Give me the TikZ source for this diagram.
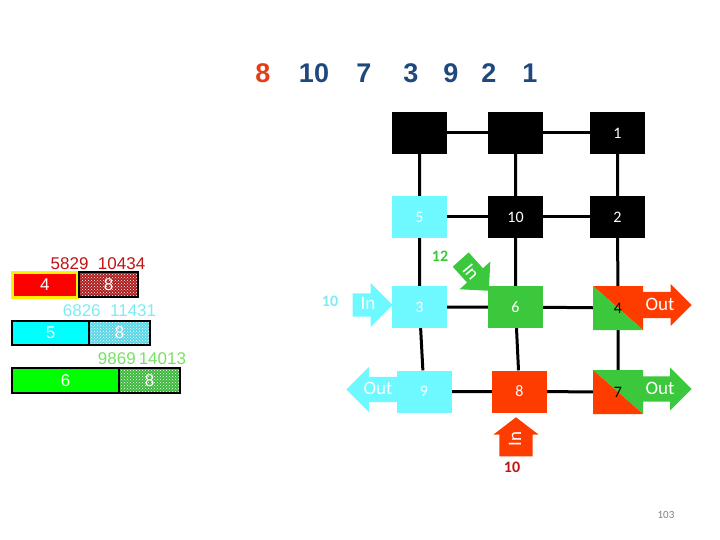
\documentclass[tikz,border=0pt]{standalone}
\usepackage{fontspec}
\setmainfont{Carlito}
\newfontfamily\arialfont{Liberation Sans}
\usepackage{xcolor}
\usetikzlibrary{arrows.meta, positioning, shapes.arrows, patterns, backgrounds}

\definecolor{navy}{RGB}{31,73,125}
\definecolor{seqred}{RGB}{228,62,22}
\definecolor{cellcyan}{RGB}{110,248,255}
\definecolor{cellgreen}{RGB}{60,200,60}
\definecolor{cellred}{RGB}{255,60,0}
\definecolor{darkred}{RGB}{192,20,20}
\definecolor{barcyan}{RGB}{0,255,255}
\definecolor{bargreen}{RGB}{0,255,0}
\definecolor{txtcyan}{RGB}{125,235,245}
\definecolor{txtgreen}{RGB}{120,225,100}
\definecolor{hatchred}{RGB}{175,30,30}
\definecolor{hatchcyan}{RGB}{90,215,230}
\definecolor{hatchgreen}{RGB}{60,185,60}

\begin{document}
\begin{tikzpicture}[x=1pt, y=-1pt, every node/.style={inner sep=0pt}]
  \tikzset{
    cell/.style={rectangle, fill=#1, minimum width=55pt, minimum height=42pt,
      text=white, font=\fontsize{16}{16}\selectfont},
    splitcell/.style 2 args={rectangle, minimum width=50pt, minimum height=44pt,
      font=\fontsize{16}{16}\selectfont,
      path picture={
        \fill[#1] (path picture bounding box.north west) -- (path picture bounding box.north east)
          -- (path picture bounding box.south east) -- cycle;
        \fill[#2] (path picture bounding box.north west) -- (path picture bounding box.south west)
          -- (path picture bounding box.south east) -- cycle;}},
    link/.style={line width=3pt},
    flow/.style={single arrow, fill=#1, anchor=tip, inner xsep=0pt},
    flowtext/.style={text=white, font=\fontsize{19}{19}\selectfont},
    seq/.style={text=navy, font=\arialfont\bfseries\fontsize{27}{27}\selectfont},
    barnum/.style={text=#1, font=\arialfont\fontsize{17}{17}\selectfont},
    bar/.style={rectangle, fill=#1, draw=black, line width=1.5pt, minimum height=25pt,
      text=white, font=\arialfont\fontsize{17}{17}\selectfont},
    hatch/.style={bar=white, preaction={fill=#1}, pattern=crosshatch dots, pattern color=white},
    count/.style={text=#1, font=\bfseries\fontsize{16}{16}\selectfont}
  }
  \useasboundingbox (0,0) rectangle (720,540);

  \node[seq, text=seqred] (s8) at (263,73) {8};
  \foreach \v/\x in {10/314, 7/364, 3/411, 9/451, 2/489, 1/530}
    \node[seq] (s\v) at (\x,73) {\v};

  \node[cell=black] (t1) at (419.5,133) {};
  \node[cell=black] (t2) at (515.5,133) {};
  \node[cell=black] (n1) at (617.5,133) {1};
  \node[cell=cellcyan] (n5) at (419.5,217) {5};
  \node[cell=black] (n10) at (515.5,217) {10};
  \node[cell=black] (n2) at (617.5,217) {2};
  \node[cell=cellcyan] (n3) at (419.5,307) {3};
  \node[cell=cellgreen] (n6) at (515.5,307) {6};
  \node[splitcell={cellred}{cellgreen}] (n4) at (618,308) {4};
  \node[cell=cellcyan] (n9) at (424,391.5) {9};
  \node[cell=cellred] (n8) at (519.5,391.5) {8};
  \node[splitcell={cellgreen}{cellred}] (n7) at (618,392) {7};

  \begin{scope}[on background layer]
    \draw[link] (t1) -- (t2) -- (n1);
    \draw[link] (n5) -- (n10) -- (n2);
    \draw[link] (n3) -- (n6) -- (n4);
    \draw[link] (n9) -- (n8) -- (n7);
    \draw[link] (t1) -- (n5) -- (n3) -- (n9);
    \draw[link] (t2) -- (n10) -- (n6) -- (n8);
    \draw[link] (n1) -- (n2) -- (n4) -- (n7);
  \end{scope}

  \node[flow=cellcyan, minimum height=40pt, inner ysep=11.5pt,
    single arrow head extend=10.5pt] (inC) at (393,305) {};
  \node[flow=cellcyan, rotate=180, minimum height=54pt, inner ysep=12.5pt,
    single arrow head extend=10pt] (outC) at (346,389.5) {};
  \node[flow=cellred, rotate=90, minimum height=39pt, inner ysep=16.5pt,
    single arrow head extend=6pt, single arrow tip angle=105] (inR) at (516,417) {};
  \node[flow=cellred, minimum height=49pt, inner ysep=13pt,
    single arrow head extend=8pt] (outR) at (692,305) {};
  \node[flow=cellgreen, minimum height=49pt, inner ysep=12.5pt,
    single arrow head extend=9pt] (outG) at (692,389) {};
  \node[flow=cellgreen, rotate=-48, minimum height=42pt, inner ysep=10.5pt,
    single arrow head extend=10pt] (inG) at (489,291) {};

  \node[flowtext] (inCt) at (368,303) {In};
  \node[flowtext] (outCt) at (378,388) {Out};
  \node[flowtext, rotate=90] (inRt) at (515,439) {In};
  \node[flowtext] (outRt) at (660,304) {Out};
  \node[flowtext] (outGt) at (660,388) {Out};
  \node[flowtext, rotate=-50] (inGt) at (471,272) {In};

  \node[count=txtcyan] (cC) at (330,301) {10};
  \node[count=cellgreen] (cG) at (440,256) {12};
  \node[count=darkred] (cR) at (512,467) {10};

  \node[bar=red, draw=yellow, line width=3pt, minimum width=65.5pt] (b4) at (44.75,285) {4};
  \node[hatch=hatchred, minimum width=59pt] (h4) at (108.5,284.5) {8};
  \node[bar=barcyan, minimum width=77pt, minimum height=24pt] (b5) at (50.5,333) {5};
  \node[hatch=hatchcyan, minimum width=61pt, minimum height=24pt] (h5) at (119.5,333) {8};
  \node[bar=bargreen, minimum width=107pt] (b6) at (65.5,380.5) {6};
  \node[hatch=hatchgreen, minimum width=61pt] (h6) at (149.5,380.5) {8};

  \node[barnum=darkred] (l4) at (98,264) {5829~~10434};
  \node[barnum=txtcyan] (l5) at (109.5,311) {6826~~11431};
  \node[barnum=txtgreen] (l6) at (142,359) {9869\kern3pt 14013};

  \node[text=gray, font=\fontsize{11}{11}\selectfont] (page) at (666,515) {103};
\end{tikzpicture}
\end{document}
